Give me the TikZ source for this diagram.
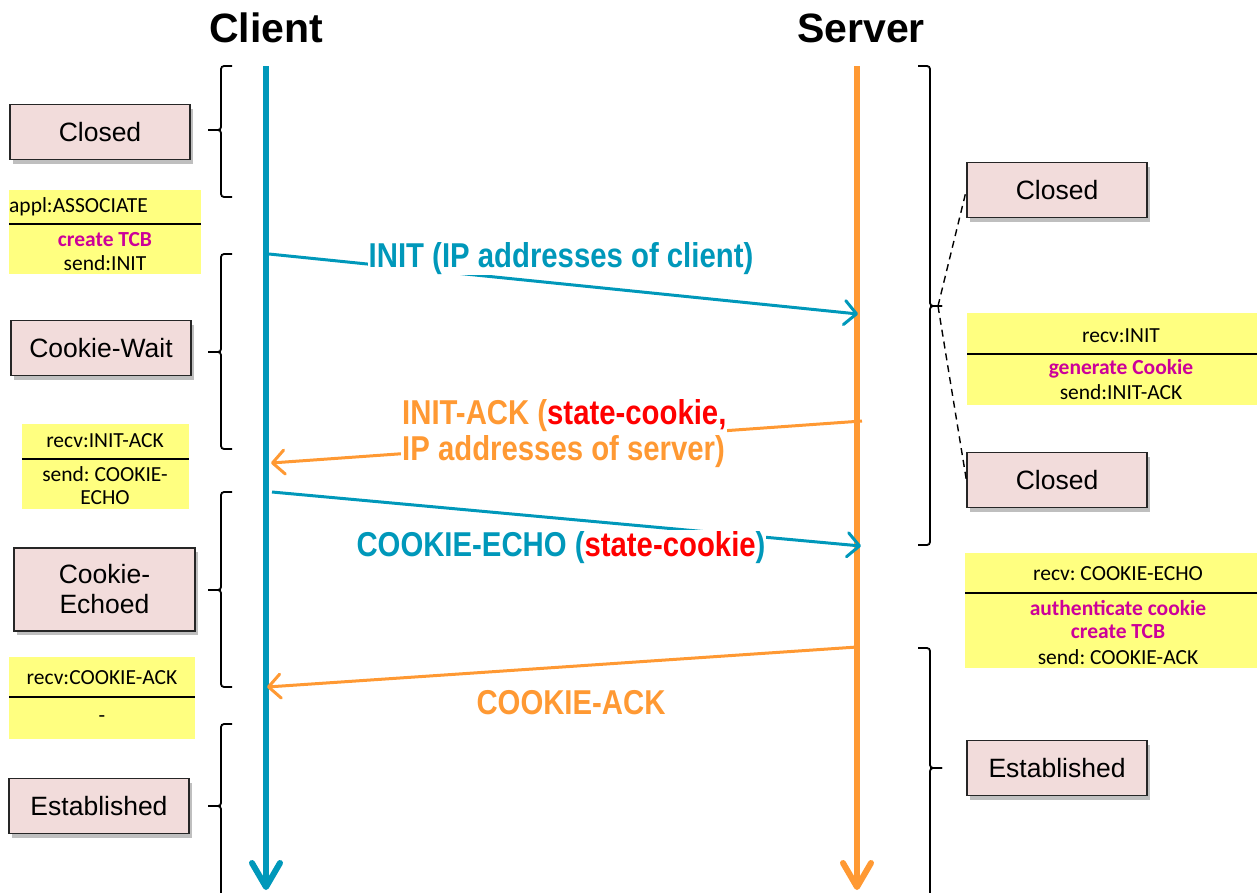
\documentclass[tikz,border=0pt]{standalone}
\usepackage{fontspec}
\setmainfont{Liberation Sans}
\newfontfamily\narrowfont[FakeStretch=0.85]{Liberation Sans}
\newfontfamily\calfont{Carlito}
\usetikzlibrary{arrows.meta,shadows}
\definecolor{cteal}{RGB}{0,152,186}
\definecolor{corange}{RGB}{255,153,51}
\definecolor{cred}{RGB}{255,0,0}
\definecolor{cmag}{RGB}{204,0,153}
\definecolor{cpink}{RGB}{242,220,219}
\definecolor{cyel}{RGB}{255,255,128}
\frenchspacing
\begin{document}
\begin{tikzpicture}[x=1pt,y=-1pt,
  title/.style={font=\bfseries\fontsize{41}{46}\selectfont, inner sep=0pt, anchor=base},
  state/.style={draw=black!85, line width=1.3pt, fill=cpink, minimum width=180pt, minimum height=55pt,
    font=\fontsize{26.5}{30}\selectfont, align=center, inner sep=0pt,
    drop shadow={shadow xshift=3pt, shadow yshift=-4pt, fill=black!50, opacity=0.5}},
  ybox/.style={fill=cyel, draw=none, inner sep=0pt, anchor=north west},
  ytext/.style={font=\calfont\fontsize{21.5}{25}\selectfont, inner sep=0pt, align=center},
  ymag/.style={ytext, font=\calfont\bfseries\fontsize{21.5}{25}\selectfont, text=cmag},
  yrule/.style={line width=2pt, black},
  life/.style={line width=6pt, -{Straight Barb[length=24pt,width=28pt,round]}},
  msg/.style={line width=3pt, -{Straight Barb[length=12pt,width=24pt,round]}},
  lbl/.style={font=\narrowfont\bfseries\fontsize{34.5}{36}\selectfont, inner sep=1pt, fill=white},
  brace/.style={line width=1.8pt, rounded corners=3pt},
  dash line/.style={line width=1.4pt, dash pattern=on 7pt off 5pt}
]
\useasboundingbox (0,0) rectangle (1257,892);

% titles
\node[title] (client) at (266,42) {Client};
\node[title] (server) at (861,42) {Server};

% lifelines
\coordinate (cTop) at (266,66);
\coordinate (cBot) at (266,890);
\coordinate (sTop) at (857,66);
\coordinate (sBot) at (857,890);
\draw[life, cteal] (cTop) -- (cBot);
\draw[life, corange] (sTop) -- (sBot);

% left state boxes
\node[state] (lclosed) at (100,132) {Closed};
\node[state] (lwait) at (101,348) {Cookie-Wait};
\node[state, minimum width=181pt, minimum height=83pt] (lechoed) at (104.5,589.5) {Cookie-\\Echoed};
\node[state] (lest) at (99,806) {Established};

% right state boxes
\node[state] (rclosed1) at (1057,190) {Closed};
\node[state] (rclosed2) at (1057,480) {Closed};
\node[state] (rest) at (1057,768) {Established};

% left braces
\draw[brace] (232,66) -- (221,66) -- (221,130) -- (208,130);
\draw[brace] (208,130) -- (221,130) -- (221,197) -- (232,197);
\draw[brace] (232,254) -- (221,254) -- (221,352) -- (208,352);
\draw[brace] (208,352) -- (221,352) -- (221,449) -- (232,449);
\draw[brace] (232,492) -- (221,492) -- (221,590) -- (208,590);
\draw[brace] (208,590) -- (221,590) -- (221,687) -- (232,687);
\draw[brace] (232,724) -- (221,724) -- (221,806) -- (208,806);
\draw[brace] (208,806) -- (221,806) -- (221,900);

% right braces
\draw[brace] (918,66) -- (930,66) -- (930,306) -- (942,306);
\draw[brace] (942,306) -- (930,306) -- (930,545) -- (918,545);
\draw[brace] (918,648) -- (930,648) -- (930,768) -- (942,768);
\draw[brace] (942,768) -- (930,768) -- (930,900);
\coordinate (rtip) at (938,306);
\draw[dash line] (rtip) -- (rclosed1.west);
\draw[dash line] (rtip) -- (rclosed2.west);

% yellow boxes left
\node[ybox, minimum width=192pt, minimum height=84pt] (y1) at (9,190) {};
\node[ytext, anchor=west] (y1a) at (9,207) {appl:ASSOCIATE};
\draw[yrule] (9,224) -- (201,224);
\node[ymag] (y1b) at (105,240) {create TCB};
\node[ytext] (y1c) at (105,263) {send:INIT};

\node[ybox, minimum width=167pt, minimum height=85pt] (y2) at (22,424) {};
\node[ytext] (y2a) at (105,441) {recv:INIT-ACK};
\draw[yrule] (22,459) -- (189,459);
\node[ytext] (y2b) at (105,474) {send: COOKIE-};
\node[ytext] (y2c) at (105,498) {ECHO};

\node[ybox, minimum width=186pt, minimum height=82pt] (y3) at (9,657) {};
\node[ytext] (y3a) at (102,678) {recv:COOKIE-ACK};
\draw[yrule] (9,697) -- (195,697);
\node[ytext] (y3b) at (102,719) {-};

% yellow boxes right
\node[ybox, minimum width=290pt, minimum height=92pt] (y4) at (967,313) {};
\node[ytext] (y4a) at (1121,336) {recv:INIT};
\draw[yrule] (967,354) -- (1257,354);
\node[ymag] (y4b) at (1121,369) {generate Cookie};
\node[ytext] (y4c) at (1121,392) {send:INIT-ACK};

\node[ybox, minimum width=292pt, minimum height=115pt] (y5) at (965,553) {};
\node[ytext] (y5a) at (1118,574) {recv: COOKIE-ECHO};
\draw[yrule] (965,593) -- (1257,593);
\node[ymag] (y5b) at (1118,608) {authenticate cookie};
\node[ymag] (y5c) at (1118,632) {create TCB};
\node[ytext] (y5d) at (1118,657) {send: COOKIE-ACK};

% messages
\coordinate (m1s) at (269,254);
\coordinate (m1e) at (858,314);
\draw[msg, cteal] (m1s) -- (m1e);
\node[lbl, text=cteal, anchor=base] (m1l) at (561,267) {INIT (IP addresses of client)};

\coordinate (m2s) at (862,421);
\coordinate (m2e) at (271,463);
\draw[msg, corange] (m2s) -- (m2e);
\node[lbl, text=corange, anchor=base west, align=left] (m2l) at (401,460) {INIT-ACK (\textcolor{cred}{state-cookie,}\\IP addresses of server)};

\coordinate (m3s) at (272,492);
\coordinate (m3e) at (861,546);
\draw[msg, cteal] (m3s) -- (m3e);
\node[lbl, text=cteal, anchor=base] (m3l) at (561,556) {COOKIE-ECHO (\textcolor{cred}{state-cookie})};

\coordinate (m4s) at (857,647);
\coordinate (m4e) at (267,687);
\draw[msg, corange] (m4s) -- (m4e);
\node[lbl, text=corange, anchor=base, fill=none] (m4l) at (571,714) {COOKIE-ACK};
\end{tikzpicture}
\end{document}
